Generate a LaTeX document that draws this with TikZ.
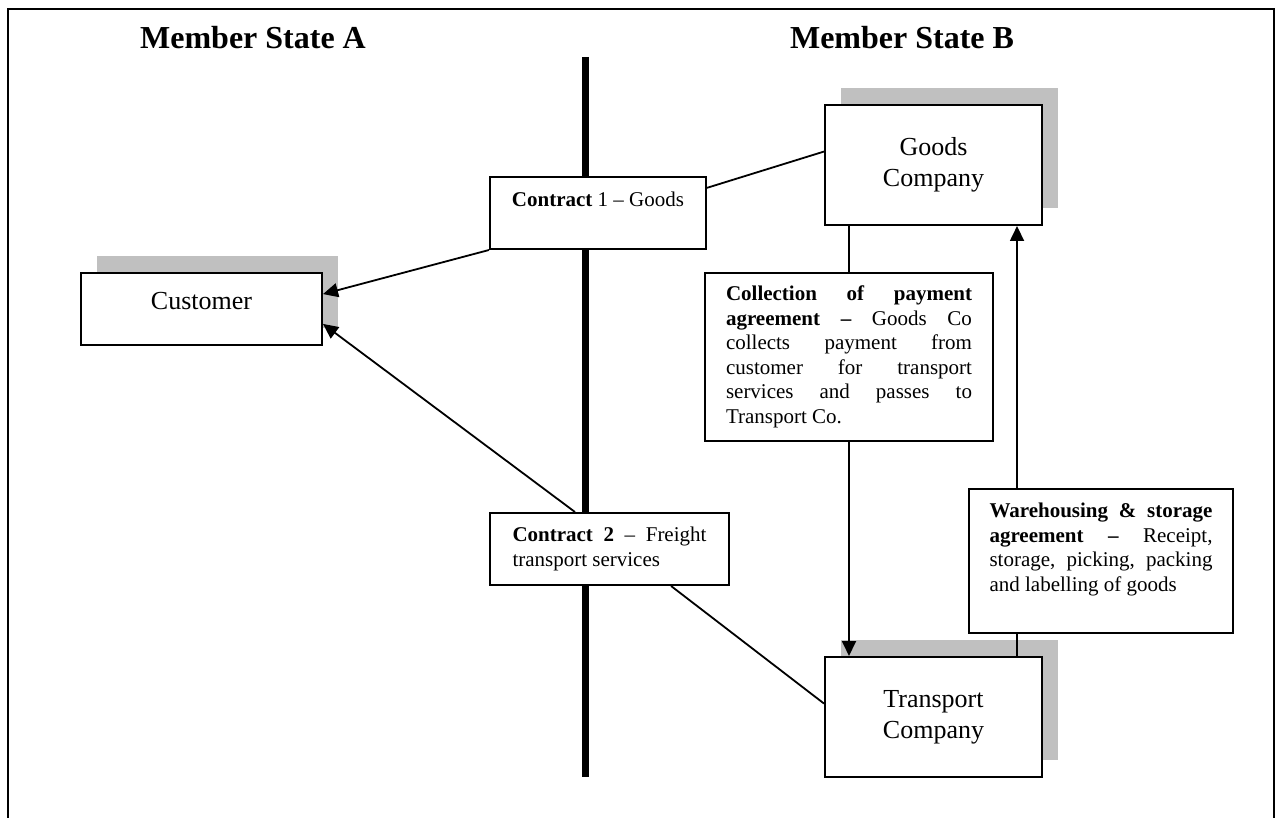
\documentclass[tikz,border=0pt]{standalone}
\usepackage{fontspec}
\setmainfont{Liberation Serif}
\usetikzlibrary{arrows.meta,shadows}
\definecolor{shadegray}{HTML}{C0C0C0}
\tikzset{line join=miter}
\hyphenpenalty=10000
\tolerance=10000

\begin{document}
\begin{tikzpicture}[x=0.5pt,y=-0.5pt,
            title/.style={font=\fontsize{16}{19}\selectfont\bfseries},
            company/.style={draw,fill=white,line width=1pt,minimum width=108.5pt,minimum height=60pt,
                align=center,font=\fontsize{13}{15.5}\selectfont,
                drop shadow={shadow xshift=8pt,shadow yshift=8.5pt,fill=shadegray,opacity=1}},
            deal/.style={draw,fill=white,line width=1pt,font=\fontsize{10.5}{12.25}\selectfont},
            link/.style={line width=0.9pt},
            flow/.style={link,-{Triangle[length=7.5pt,width=7pt]}}
            ]
            \useasboundingbox (0,0) rectangle (1279,818);
            \draw[line width=1.3pt] (8,818) -- (8,9) -- (1274,9) -- (1274,818);
            \draw[line width=3.5pt] (585,57) -- (585,777);

            \node[title] (stateA) at (253,38) {Member State A};
            \node[title] (stateB) at (902,38) {Member State B};

            \node[company] (goods) at (933.5,165) {Goods\\Company};
            \node[company] (trans) at (933.5,717) {Transport\\Company};
            \node[company,minimum width=120.5pt,minimum height=36pt,text height=9pt,text depth=9pt] (cust) at (201.5,309) {Customer};

            \node[deal,minimum width=108pt,minimum height=36pt,text height=8pt,text depth=14pt] (deal1) at (598,213)
                {\textbf{Contract} 1 – Goods};
            \node[deal,minimum width=119.5pt,minimum height=36pt,text width=97pt,align=justify] (deal2) at (609.5,549)
                {\textbf{Contract 2} – Freight transport services};
            \node[deal,minimum width=144pt,minimum height=84pt,text width=123pt,align=justify] (collect) at (849,357)
                {\textbf{Collection of payment agreement –} Goods Co collects payment from customer for transport services and passes to Transport Co.};
            \node[deal,minimum width=132pt,minimum height=72pt,text width=111.5pt,align=justify,text depth=50.5pt] (store) at (1101,561)
                {\textbf{Warehousing \& storage agreement –} Receipt, storage, picking, packing and labelling of goods};

            \draw[link] (deal1.13.5) -- (goods.173.7);
            \draw[flow] (deal1.south west) -- (cust.7.6);
            \draw[flow] (deal2.133.8) -- (cust.-7.1);
            \draw[link] (deal2.-31.6) -- (trans.173.7);
            \draw[link] (collect.north) -- (collect.north |- goods.south);
            \draw[flow] (collect.south) -- (collect.south |- trans.north);
            \draw[flow] (store.139.4) -- (store.139.4 |- goods.south);
            \draw[link] (store.-139.4) -- (store.-139.4 |- trans.north);
\end{tikzpicture}
\end{document}
